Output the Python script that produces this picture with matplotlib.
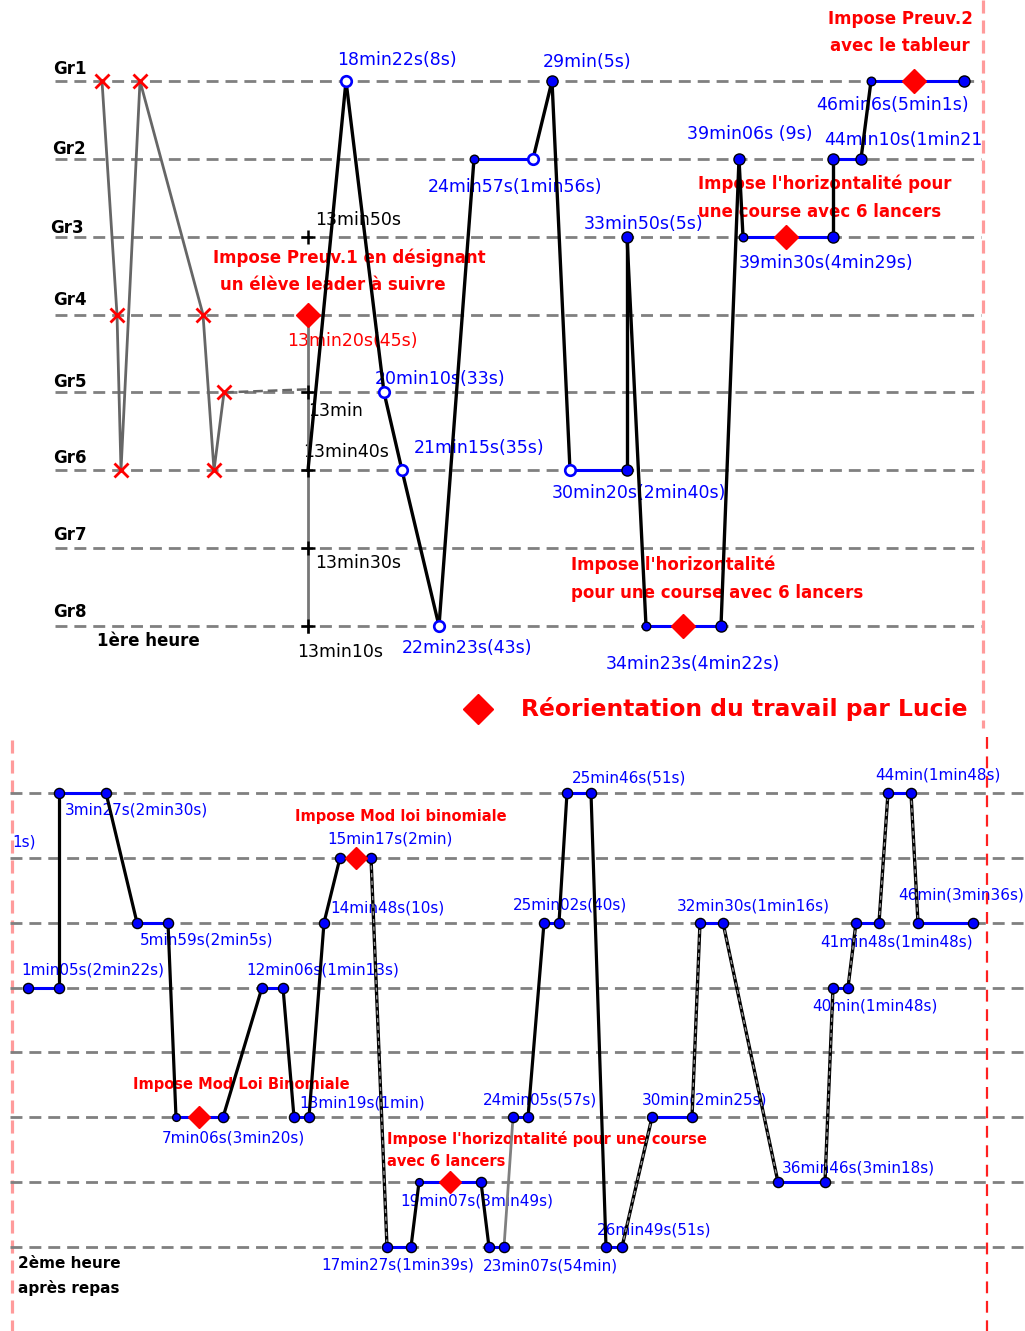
import matplotlib
matplotlib.use("Agg")
import matplotlib.pyplot as plt
from matplotlib.patches import Rectangle

plt.rcParams['font.family'] = ['DejaVu Sans']
plt.rcParams['lines.scale_dashes'] = False

# ---------------- data : 1ere heure (haut) ----------------
groups = ["Gr1", "Gr2", "Gr3", "Gr4", "Gr5", "Gr6", "Gr7", "Gr8"]

# passages sans guide (croix rouges)
first_x = [102, 117, 121, 140, 203, 214, 224]
first_grp = [1, 4, 6, 1, 4, 6, 5]

# eleve leader : reperes temporels
leader_x = 308
leader_ticks = [3, 5, 6, 7, 8]
leader_labels = ["13min50s", "13min", "13min40s", "13min30s", "13min10s"]

# parcours du professeur
top_x = [308, 346, 384, 402, 439, 474, 533, 552, 570, 627, 627, 646, 721, 739,
         743, 833, 833, 861, 871, 964]
top_grp = [6, 1, 5, 6, 8, 2, 2, 1, 6, 6, 3, 8, 8, 2, 3, 3, 2, 2, 1, 1]
top_open = [1, 2, 3, 4, 6, 8]          # cercles vides
top_small = [5, 11, 14, 18]            # petits points

top_diamond_x = [308, 683, 786, 914]
top_diamond_grp = [4, 8, 3, 1]

# ---------------- data : 2eme heure (bas) ----------------
bot_x = [28, 59, 59, 106, 137, 168, 176, 223, 262, 283, 294, 309, 324, 340,
         371, 387, 411, 419, 481, 489, 504, 513, 528, 544, 559, 567, 591, 606,
         622, 652, 692, 700, 723, 778, 825, 833, 848, 856, 879, 888, 911, 918, 973]
bot_lvl = [4, 4, 1, 1, 3, 3, 6, 6, 4, 4, 6, 6, 3, 2, 2, 8, 8, 7, 7, 8, 8, 6, 6,
           3, 3, 1, 1, 8, 8, 6, 6, 3, 3, 7, 7, 4, 4, 3, 3, 1, 1, 3, 3]
bot_small = [6, 17]
bot_dashed_segs = [14, 28, 30, 32, 34, 36, 38, 40]
bot_gray_segs = [20]

bot_diamond_x = [199, 356, 450]
bot_diamond_lvl = [6, 2, 7]

# ---------------- textes (position en pixels) ----------------
top_blue = [
    ("18min22s(8s)", 337, 60), ("29min(5s)", 543, 62),
    ("24min57s(1min56s)", 428, 187), ("33min50s(5s)", 584, 224),
    ("39min06s (9s)", 687, 134), ("46min6s(5min1s)", 816, 105),
    ("39min30s(4min29s)", 739, 263), ("20min10s(33s)", 375, 379),
    ("21min15s(35s)", 414, 448), ("30min20s(2min40s)", 552, 493),
    ("22min23s(43s)", 402, 648), ("34min23s(4min22s)", 606, 664),
]
leader_label_pos = [(315, 220), (308, 411), (303, 452), (315, 563), (297, 652)]
group_label_pos = [(53, 69), (52, 149), (50, 228), (53, 300), (53, 382),
                   (53, 458), (53, 535), (53, 612)]
top_red = [
    ("Impose Preuv.1 en désignant", 213, 258), ("un élève leader à suivre", 220, 285),
    ("Impose l'horizontalité", 571, 565), ("pour une course avec 6 lancers", 571, 593),
    ("Impose l'horizontalité pour", 698, 184), ("une course avec 6 lancers", 698, 212),
]
bot_blue = [
    ("1s)", 12, 842), ("3min27s(2min30s)", 65, 810), ("5min59s(2min5s)", 140, 940),
    ("1min05s(2min22s)", 21, 970), ("12min06s(1min13s)", 246, 970),
    ("15min17s(2min)", 327, 839), ("14min48s(10s)", 330, 908),
    ("7min06s(3min20s)", 162, 1138), ("13min19s(1min)", 299, 1103),
    ("17min27s(1min39s)", 321, 1265), ("19min07s(3min49s)", 400, 1201),
    ("23min07s(54min)", 483, 1266), ("24min05s(57s)", 483, 1100),
    ("25min02s(40s)", 513, 905), ("25min46s(51s)", 572, 778),
    ("26min49s(51s)", 597, 1230), ("30min(2min25s)", 642, 1100),
    ("32min30s(1min16s)", 677, 906), ("36min46s(3min18s)", 782, 1168),
    ("40min(1min48s)", 812, 1006), ("41min48s(1min48s)", 820, 942),
    ("44min(1min48s)", 875, 775), ("46min(3min36s)", 898, 895),
]
bot_red = [
    ("Impose Mod loi binomiale", 295, 816), ("Impose Mod Loi Binomiale", 133, 1085),
    ("Impose l'horizontalité pour une course", 387, 1139), ("avec 6 lancers", 387, 1162),
]

# ---------------- mise en page ----------------
W, H = 1025, 1331
TOP_SPLIT = 700
TOP_ROW0, TOP_STEP = 81, 77.857
BOT_ROW0, BOT_STEP = 793, 64.857
GRID_DASH = (0, (8.6, 5.0))


def row_of(py, row0, step):
    return 1 + (py - row0) / step


fig = plt.figure(figsize=(W / 100, H / 100), dpi=100)

ov = fig.add_axes([0, 0, 1, 1], zorder=0)
ov.set_xlim(0, W)
ov.set_ylim(H, 0)
ov.axis("off")

ax1 = fig.add_axes([0, 1 - TOP_SPLIT / H, 1, TOP_SPLIT / H], zorder=1)
ax1.set_xlim(0, W)
ax1.set_ylim(row_of(TOP_SPLIT, TOP_ROW0, TOP_STEP), row_of(0, TOP_ROW0, TOP_STEP))
ax1.axis("off")
ax1.patch.set_visible(False)

ax2 = fig.add_axes([0, 0, 1, 1 - TOP_SPLIT / H], zorder=1)
ax2.set_xlim(0, W)
ax2.set_ylim(row_of(H, BOT_ROW0, BOT_STEP), row_of(TOP_SPLIT, BOT_ROW0, BOT_STEP))
ax2.axis("off")
ax2.patch.set_visible(False)

rows = list(range(1, len(groups) + 1))

# lignes de groupe
ax1.hlines(rows, 55, 981, colors="#808080", linewidth=2.0, linestyles=[GRID_DASH], zorder=1)
ax2.hlines(rows, 10, W, colors="#808080", linewidth=2.0, linestyles=[GRID_DASH], zorder=1)

# separateurs verticaux
ov.plot([983, 983], [0, 728], color="#ff9b9b", lw=2.3, ls=(0, (9.4, 5.0)), zorder=2)
ov.plot([12, 12], [740, H], color="#ff9b9b", lw=2.3, ls=(0, (9.4, 5.0)), zorder=2)
ov.plot([987, 987], [737, H], color="#ff1f1f", lw=1.6, ls=(0, (8.5, 5.5)), zorder=2)

# 1ere heure : croix
ax1.plot(first_x, first_grp, color="#666666", lw=2.0, zorder=2)
ax1.plot(first_x, first_grp, ls="none", marker="x", ms=10.5, mew=2.0, color="red", zorder=4)
ax1.plot([first_x[-1], leader_x], [first_grp[-1], first_grp[-1] - 0.04], color="#666666",
         lw=1.8, ls=(0, (7, 3.5)), zorder=2)

# eleve leader
ax1.plot([leader_x, leader_x], [4, 8.08], color="#777777", lw=2.0, zorder=2)
ax1.plot([leader_x] * len(leader_ticks), leader_ticks, ls="none", marker="+", ms=10.5,
         mew=1.8, color="black", zorder=4)


def draw_path(ax, xs, ys, dashed=(), gray=(), lw=2.3):
    for i in range(len(xs) - 1):
        sx, sy = xs[i:i + 2], ys[i:i + 2]
        if sy[0] == sy[1]:
            ax.plot(sx, sy, color="blue", lw=2.2, zorder=3)
        elif i in gray:
            ax.plot(sx, sy, color="#808080", lw=2.0, zorder=3)
        elif i in dashed:
            ax.plot(sx, sy, color="black", lw=2.4, zorder=3)
            ax.plot(sx, sy, color="#9a9a9a", lw=1.0, ls=(0, (3, 2.5)), zorder=3)
        else:
            ax.plot(sx, sy, color="black", lw=lw, zorder=3)


draw_path(ax1, top_x, top_grp, lw=2.4)
for i in range(1, len(top_x)):
    if i in top_open:
        ax1.plot(top_x[i], top_grp[i], "o", ms=7.6, mfc="white", mec="blue", mew=1.9, zorder=5)
    else:
        ms = 6.2 if i in top_small else 8.0
        ax1.plot(top_x[i], top_grp[i], "o", ms=ms, mfc="blue", mec="black", mew=1.0, zorder=5)
ax1.plot(top_diamond_x, top_diamond_grp, ls="none", marker="D", ms=12.5, color="red", zorder=6)

# 2eme heure
draw_path(ax2, bot_x, bot_lvl, dashed=bot_dashed_segs, gray=bot_gray_segs)
for i in range(len(bot_x)):
    ms = 5.6 if i in bot_small else 7.3
    ax2.plot(bot_x[i], bot_lvl[i], "o", ms=ms, mfc="blue", mec="black", mew=1.0, zorder=5)
ax2.plot(bot_diamond_x, bot_diamond_lvl, ls="none", marker="D", ms=11, color="red", zorder=6)

# textes
for txt, x, y in top_blue:
    ov.text(x, y, txt, color="blue", fontsize=12.5, ha="left", va="center", zorder=1)
clip = Rectangle((0, 0), 982, H, transform=ov.transData)
t = ov.text(824, 140, "44min10s(1min21s)", color="blue", fontsize=12.5, ha="left",
            va="center", zorder=1, clip_on=True)
t.set_clip_path(clip)
for txt, (x, y) in zip(leader_labels, leader_label_pos):
    ov.text(x, y, txt, color="black", fontsize=12.5, ha="left", va="center", zorder=1)
ov.text(287, 341, "13min20s(45s)", color="red", fontsize=12.5, ha="left", va="center", zorder=1)
for txt, (x, y) in zip(groups, group_label_pos):
    ov.text(x, y, txt, color="black", fontsize=12, fontweight="bold", ha="left",
            va="center", zorder=1)
ov.text(97, 641, "1ère heure", color="black", fontsize=12, fontweight="bold",
        ha="left", va="center", zorder=1)
for txt, x, y in top_red:
    ov.text(x, y, txt, color="red", fontsize=12, fontweight="bold", ha="left",
            va="center", zorder=1)
ov.text(900, 19, "Impose Preuv.2", color="red", fontsize=12, fontweight="bold",
        ha="center", va="center", zorder=1)
ov.text(900, 46, "avec le tableur", color="red", fontsize=12, fontweight="bold",
        ha="center", va="center", zorder=1)

ov.plot([478], [709], ls="none", marker="D", ms=15, color="red", zorder=3)
ov.text(521, 709, "Réorientation du travail par Lucie", color="red", fontsize=16.8,
        fontweight="bold", ha="left", va="center", zorder=1)

for txt, x, y in bot_blue:
    ov.text(x, y, txt, color="blue", fontsize=11, ha="left", va="center", zorder=1)
for txt, x, y in bot_red:
    ov.text(x, y, txt, color="red", fontsize=10.5, fontweight="bold", ha="left",
            va="center", zorder=1)
ov.text(18, 1264, "2ème heure", color="black", fontsize=11, fontweight="bold",
        ha="left", va="center", zorder=1)
ov.text(18, 1288, "après repas", color="black", fontsize=11, fontweight="bold",
        ha="left", va="center", zorder=1)

fig.savefig("out.png", dpi=100)
